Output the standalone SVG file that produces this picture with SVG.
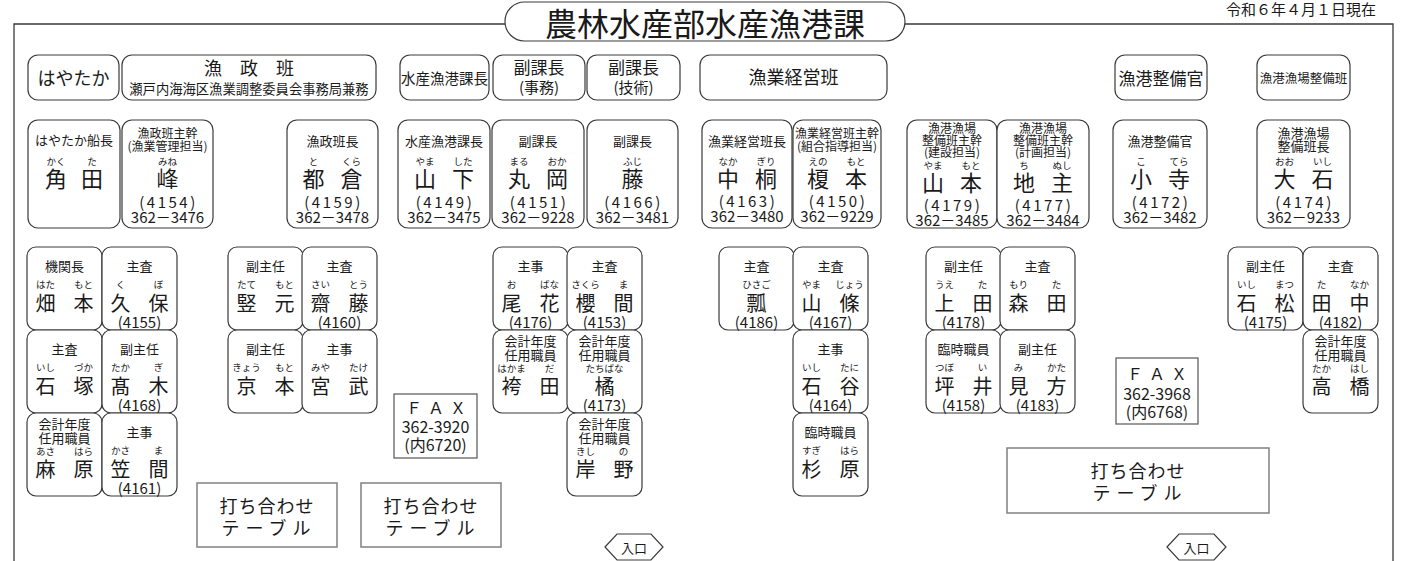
<svg xmlns="http://www.w3.org/2000/svg" width="1411" height="561" viewBox="0 0 1411 561">
<style>
text{font-family:"Noto Sans CJK JP","Noto Sans",sans-serif;fill:#1a1a1a;text-anchor:middle;dominant-baseline:central}
.b{fill:#fff;stroke:#3a3a3a;stroke-width:1.2}
.sq{fill:#fff;stroke:#808080;stroke-width:1.5}
.fx{fill:#fff;stroke:#555;stroke-width:1.2}
.fr{fill:none;stroke:#3a3a3a;stroke-width:1.3}
.t{font-size:13px}
.t2{font-size:12px}
.r{font-size:9.5px}
.n{font-size:22px}
.m{font-size:20px}
.e{font-size:15px;letter-spacing:2.5px}
.p{font-size:15px}
.q{font-size:15px}
.f{font-size:16px}
.tb{font-size:18px}
</style>
<defs>
<rect id="cell" class="b" x="0" y="0" width="75" height="83" rx="9"/>
</defs>
<g id="frame">
<path class="fr" d="M14,561 V24 H505 M905,24 H1393 V561"/>
</g>
<g id="title">
<rect class="b" x="505" y="2" width="400" height="39" rx="19.5"/>
<text x="705" y="22" style="font-size:32px">農林水産部水産漁港課</text>
</g>
<text id="date" x="1376" y="8" style="font-size:15px;text-anchor:end">令和６年４月１日現在</text>
<g id="connectors"></g>

<g id="h-hayataka"><rect class="b" x="28" y="55" width="91" height="45" rx="10"/><text x="73.5" y="77" style="font-size:18px">はやたか</text></g>
<g id="h-gyosei"><rect class="b" x="122" y="55" width="254" height="45" rx="10"/><text x="249" y="67" style="font-size:18px">漁　政　班</text><text x="249" y="88" style="font-size:13.3px">瀬戸内海海区漁業調整委員会事務局兼務</text></g>
<g id="h-kacho"><rect class="b" x="400" y="55" width="89" height="45" rx="10"/><text x="444.5" y="77" style="font-size:14.5px">水産漁港課長</text></g>
<g id="h-fuku1"><rect class="b" x="493" y="55" width="92" height="45" rx="10"/><text x="539" y="66" style="font-size:17px">副課長</text><text x="539" y="86" style="font-size:15px">(事務)</text></g>
<g id="h-fuku2"><rect class="b" x="587" y="55" width="93" height="45" rx="10"/><text x="633.5" y="66" style="font-size:17px">副課長</text><text x="633.5" y="86" style="font-size:15px">(技術)</text></g>
<g id="h-keiei"><rect class="b" x="700" y="55" width="187" height="45" rx="10"/><text x="793.5" y="76" style="font-size:18px">漁業経営班</text></g>
<g id="h-seibikan"><rect class="b" x="1115" y="55" width="92" height="45" rx="10"/><text x="1161" y="77" style="font-size:17px">漁港整備官</text></g>
<g id="h-seibihan"><rect class="b" x="1257" y="55" width="93" height="45" rx="10"/><text x="1303.5" y="77" style="font-size:12.5px">漁港漁場整備班</text></g>

<g id="kakuta" transform="translate(28,120)"><rect class="b" width="92" height="108" rx="10"/>
<text class="t" x="46" y="19">はやたか船長</text><text class="r" x="28" y="41">かく</text><text class="r" x="64" y="41">た</text>
<text class="n" x="28" y="57">角</text><text class="n" x="64" y="57">田</text></g>

<g id="mine" transform="translate(122,120)"><rect class="b" width="91" height="108" rx="10"/>
<text class="t2" x="45.5" y="12">漁政班主幹</text><text class="t2" x="45.5" y="25">(漁業管理担当)</text><text class="r" x="45.5" y="41">みね</text>
<text class="n" x="45.5" y="57">峰</text><text class="e" x="46.5" y="81">(4154)</text><text class="p" x="45.5" y="96">362－3476</text></g>

<g id="tokura" transform="translate(287,120)"><rect class="b" width="91" height="108" rx="10"/>
<text class="t" x="45.5" y="20">漁政班長</text><text class="r" x="26.5" y="41">と</text><text class="r" x="64.5" y="41">くら</text>
<text class="n" x="26.5" y="57">都</text><text class="n" x="64.5" y="57">倉</text><text class="e" x="46.5" y="81">(4159)</text><text class="p" x="45.5" y="96">362－3478</text></g>

<g id="yamashita" transform="translate(398,120)"><rect class="b" width="92" height="108" rx="10"/>
<text class="t" x="46" y="20">水産漁港課長</text><text class="r" x="27" y="41">やま</text><text class="r" x="65" y="41">した</text>
<text class="n" x="27" y="57">山</text><text class="n" x="65" y="57">下</text><text class="e" x="47" y="81">(4149)</text><text class="p" x="46" y="96">362－3475</text></g>

<g id="maruoka" transform="translate(492,120)"><rect class="b" width="92" height="108" rx="10"/>
<text class="t" x="46" y="20">副課長</text><text class="r" x="27" y="41">まる</text><text class="r" x="65" y="41">おか</text>
<text class="n" x="27" y="57">丸</text><text class="n" x="65" y="57">岡</text><text class="e" x="47" y="81">(4151)</text><text class="p" x="46" y="96">362－9228</text></g>

<g id="fuji" transform="translate(587,120)"><rect class="b" width="91" height="108" rx="10"/>
<text class="t" x="45.5" y="20">副課長</text><text class="r" x="45.5" y="41">ふじ</text>
<text class="n" x="45.5" y="57">藤</text><text class="e" x="46.5" y="81">(4166)</text><text class="p" x="45.5" y="96">362－3481</text></g>

<g id="nakagiri" transform="translate(702,120)"><rect class="b" width="90" height="108" rx="10"/>
<text class="t" x="45" y="20">漁業経営班長</text><text class="r" x="26" y="41">なか</text><text class="r" x="64" y="41">ぎり</text>
<text class="n" x="26" y="57">中</text><text class="n" x="64" y="57">桐</text><text class="e" x="46" y="80">(4163)</text><text class="p" x="45" y="95">362－3480</text></g>

<g id="enomoto" transform="translate(793,120)"><rect class="b" width="88" height="108" rx="10"/>
<text class="t2" x="44" y="12">漁業経営班主幹</text><text class="t2" x="44" y="25">(組合指導担当)</text><text class="r" x="25" y="41">えの</text><text class="r" x="63" y="41">もと</text>
<text class="n" x="25" y="57">榎</text><text class="n" x="63" y="57">本</text><text class="e" x="45" y="80">(4150)</text><text class="p" x="44" y="95">362－9229</text></g>

<g id="yamamoto" transform="translate(907,120)"><rect class="b" width="90" height="108" rx="10"/>
<text class="t2" x="45" y="7">漁港漁場</text><text class="t2" x="45" y="19">整備班主幹</text><text class="t2" x="45" y="31">(建設担当)</text>
<text class="r" x="26" y="45">やま</text><text class="r" x="64" y="45">もと</text>
<text class="n" x="26" y="61">山</text><text class="n" x="64" y="61">本</text><text class="e" x="46" y="84">(4179)</text><text class="p" x="45" y="99">362－3485</text></g>

<g id="jinushi" transform="translate(997,120)"><rect class="b" width="92" height="108" rx="10"/>
<text class="t2" x="46" y="7">漁港漁場</text><text class="t2" x="46" y="19">整備班主幹</text><text class="t2" x="46" y="31">(計画担当)</text>
<text class="r" x="27" y="45">ち</text><text class="r" x="65" y="45">ぬし</text>
<text class="n" x="27" y="61">地</text><text class="n" x="65" y="61">主</text><text class="e" x="47" y="84">(4177)</text><text class="p" x="46" y="99">362－3484</text></g>

<g id="kotera" transform="translate(1113,120)"><rect class="b" width="94" height="108" rx="10"/>
<text class="t" x="47" y="20">漁港整備官</text><text class="r" x="28" y="41">こ</text><text class="r" x="66" y="41">てら</text>
<text class="n" x="28" y="57">小</text><text class="n" x="66" y="57">寺</text><text class="e" x="48" y="81">(4172)</text><text class="p" x="47" y="96">362－3482</text></g>

<g id="oishi" transform="translate(1257,120)"><rect class="b" width="93" height="108" rx="10"/>
<text class="t" x="46.5" y="12">漁港漁場</text><text class="t" x="46.5" y="25">整備班長</text><text class="r" x="27.5" y="41">おお</text><text class="r" x="65.5" y="41">いし</text>
<text class="n" x="27.5" y="57">大</text><text class="n" x="65.5" y="57">石</text><text class="e" x="47.5" y="81">(4174)</text><text class="p" x="46.5" y="96">362－9233</text></g>

<g id="hatamoto" transform="translate(27,247)"><use href="#cell"/><text class="t" x="37.5" y="18">機関長</text><text class="r" x="18.5" y="37">はた</text><text class="r" x="56.5" y="37">もと</text><text class="m" x="18.5" y="55">畑</text><text class="m" x="56.5" y="55">本</text></g>
<g id="kubo" transform="translate(102,247)"><use href="#cell"/><text class="t" x="37.5" y="18">主査</text><text class="r" x="18.5" y="37">く</text><text class="r" x="56.5" y="37">ぼ</text><text class="m" x="18.5" y="55">久</text><text class="m" x="56.5" y="55">保</text><text class="q" x="37.5" y="74">(4155)</text></g>
<g id="ishizuka" transform="translate(27,330)"><use href="#cell"/><text class="t" x="37.5" y="18">主査</text><text class="r" x="18.5" y="37">いし</text><text class="r" x="56.5" y="37">づか</text><text class="m" x="18.5" y="55">石</text><text class="m" x="56.5" y="55">塚</text></g>
<g id="takagi" transform="translate(102,330)"><use href="#cell"/><text class="t" x="37.5" y="18">副主任</text><text class="r" x="18.5" y="37">たか</text><text class="r" x="56.5" y="37">ぎ</text><text class="m" x="18.5" y="55">髙</text><text class="m" x="56.5" y="55">木</text><text class="q" x="37.5" y="74">(4168)</text></g>
<g id="asahara" transform="translate(27,413)"><use href="#cell"/><text class="t" x="37.5" y="10">会計年度</text><text class="t" x="37.5" y="24">任用職員</text><text class="r" x="18.5" y="38">あさ</text><text class="r" x="56.5" y="38">はら</text><text class="m" x="18.5" y="55">麻</text><text class="m" x="56.5" y="55">原</text></g>
<g id="kasama" transform="translate(102,413)"><use href="#cell"/><text class="t" x="37.5" y="18">主事</text><text class="r" x="18.5" y="37">かさ</text><text class="r" x="56.5" y="37">ま</text><text class="m" x="18.5" y="55">笠</text><text class="m" x="56.5" y="55">間</text><text class="q" x="37.5" y="74">(4161)</text></g>

<g id="tatemoto" transform="translate(228,247)"><use href="#cell"/><text class="t" x="37.5" y="18">副主任</text><text class="r" x="18.5" y="37">たて</text><text class="r" x="56.5" y="37">もと</text><text class="m" x="18.5" y="55">竪</text><text class="m" x="56.5" y="55">元</text></g>
<g id="saito" transform="translate(302,247)"><use href="#cell"/><text class="t" x="37.5" y="18">主査</text><text class="r" x="18.5" y="37">さい</text><text class="r" x="56.5" y="37">とう</text><text class="m" x="18.5" y="55">齋</text><text class="m" x="56.5" y="55">藤</text><text class="q" x="37.5" y="74">(4160)</text></g>
<g id="kyomoto" transform="translate(228,330)"><use href="#cell"/><text class="t" x="37.5" y="18">副主任</text><text class="r" x="18.5" y="37">きょう</text><text class="r" x="56.5" y="37">もと</text><text class="m" x="18.5" y="55">京</text><text class="m" x="56.5" y="55">本</text></g>
<g id="miyatake" transform="translate(302,330)"><use href="#cell"/><text class="t" x="37.5" y="18">主事</text><text class="r" x="18.5" y="37">みや</text><text class="r" x="56.5" y="37">たけ</text><text class="m" x="18.5" y="55">宮</text><text class="m" x="56.5" y="55">武</text></g>

<g id="obana" transform="translate(493,247)"><use href="#cell"/><text class="t" x="37.5" y="18">主事</text><text class="r" x="18.5" y="37">お</text><text class="r" x="56.5" y="37">ばな</text><text class="m" x="18.5" y="55">尾</text><text class="m" x="56.5" y="55">花</text><text class="q" x="37.5" y="74">(4176)</text></g>
<g id="sakurama" transform="translate(567,247)"><use href="#cell"/><text class="t" x="37.5" y="18">主査</text><text class="r" x="18.5" y="37">さくら</text><text class="r" x="56.5" y="37">ま</text><text class="m" x="18.5" y="55">櫻</text><text class="m" x="56.5" y="55">間</text><text class="q" x="37.5" y="74">(4153)</text></g>
<g id="hakamada" transform="translate(493,330)"><use href="#cell"/><text class="t" x="37.5" y="10">会計年度</text><text class="t" x="37.5" y="24">任用職員</text><text class="r" x="18.5" y="38">はかま</text><text class="r" x="56.5" y="38">だ</text><text class="m" x="18.5" y="55">袴</text><text class="m" x="56.5" y="55">田</text></g>
<g id="tachibana" transform="translate(567,330)"><use href="#cell"/><text class="t" x="37.5" y="10">会計年度</text><text class="t" x="37.5" y="24">任用職員</text><text class="r" x="37.5" y="38">たちばな</text><text class="m" x="37.5" y="55">橘</text><text class="q" x="37.5" y="74">(4173)</text></g>
<g id="kishino" transform="translate(567,413)"><use href="#cell"/><text class="t" x="37.5" y="10">会計年度</text><text class="t" x="37.5" y="24">任用職員</text><text class="r" x="18.5" y="38">きし</text><text class="r" x="56.5" y="38">の</text><text class="m" x="18.5" y="55">岸</text><text class="m" x="56.5" y="55">野</text></g>

<g id="hisago" transform="translate(719,247)"><use href="#cell"/><text class="t" x="37.5" y="18">主査</text><text class="r" x="37.5" y="37">ひさご</text><text class="m" x="37.5" y="55">瓢</text><text class="q" x="37.5" y="74">(4186)</text></g>
<g id="sanjo" transform="translate(793,247)"><use href="#cell"/><text class="t" x="37.5" y="18">主査</text><text class="r" x="18.5" y="37">やま</text><text class="r" x="56.5" y="37">じょう</text><text class="m" x="18.5" y="55">山</text><text class="m" x="56.5" y="55">條</text><text class="q" x="37.5" y="74">(4167)</text></g>
<g id="ishitani" transform="translate(793,330)"><use href="#cell"/><text class="t" x="37.5" y="18">主事</text><text class="r" x="18.5" y="37">いし</text><text class="r" x="56.5" y="37">たに</text><text class="m" x="18.5" y="55">石</text><text class="m" x="56.5" y="55">谷</text><text class="q" x="37.5" y="74">(4164)</text></g>
<g id="sugihara" transform="translate(793,413)"><use href="#cell"/><text class="t" x="37.5" y="18">臨時職員</text><text class="r" x="18.5" y="37">すぎ</text><text class="r" x="56.5" y="37">はら</text><text class="m" x="18.5" y="55">杉</text><text class="m" x="56.5" y="55">原</text></g>

<g id="ueta" transform="translate(926,247)"><use href="#cell"/><text class="t" x="37.5" y="18">副主任</text><text class="r" x="18.5" y="37">うえ</text><text class="r" x="56.5" y="37">た</text><text class="m" x="18.5" y="55">上</text><text class="m" x="56.5" y="55">田</text><text class="q" x="37.5" y="74">(4178)</text></g>
<g id="morita" transform="translate(1000,247)"><use href="#cell"/><text class="t" x="37.5" y="18">主査</text><text class="r" x="18.5" y="37">もり</text><text class="r" x="56.5" y="37">た</text><text class="m" x="18.5" y="55">森</text><text class="m" x="56.5" y="55">田</text></g>
<g id="tsuboi" transform="translate(926,330)"><use href="#cell"/><text class="t" x="37.5" y="18">臨時職員</text><text class="r" x="18.5" y="37">つぼ</text><text class="r" x="56.5" y="37">い</text><text class="m" x="18.5" y="55">坪</text><text class="m" x="56.5" y="55">井</text><text class="q" x="37.5" y="74">(4158)</text></g>
<g id="mikata" transform="translate(1000,330)"><use href="#cell"/><text class="t" x="37.5" y="18">副主任</text><text class="r" x="18.5" y="37">み</text><text class="r" x="56.5" y="37">かた</text><text class="m" x="18.5" y="55">見</text><text class="m" x="56.5" y="55">方</text><text class="q" x="37.5" y="74">(4183)</text></g>

<g id="ishimatsu" transform="translate(1228,247)"><use href="#cell"/><text class="t" x="37.5" y="18">副主任</text><text class="r" x="18.5" y="37">いし</text><text class="r" x="56.5" y="37">まつ</text><text class="m" x="18.5" y="55">石</text><text class="m" x="56.5" y="55">松</text><text class="q" x="37.5" y="74">(4175)</text></g>
<g id="tanaka" transform="translate(1303,247)"><use href="#cell"/><text class="t" x="37.5" y="18">主査</text><text class="r" x="18.5" y="37">た</text><text class="r" x="56.5" y="37">なか</text><text class="m" x="18.5" y="55">田</text><text class="m" x="56.5" y="55">中</text><text class="q" x="37.5" y="74">(4182)</text></g>
<g id="takahashi" transform="translate(1303,330)"><use href="#cell"/><text class="t" x="37.5" y="10">会計年度</text><text class="t" x="37.5" y="24">任用職員</text><text class="r" x="18.5" y="38">たか</text><text class="r" x="56.5" y="38">はし</text><text class="m" x="18.5" y="55">高</text><text class="m" x="56.5" y="55">橋</text></g>

<g id="fax1"><rect class="fx" x="394" y="394" width="83" height="64"/><text class="f" x="439" y="407" style="letter-spacing:6px">ＦＡＸ</text><text class="f" x="435.5" y="426">362-3920</text><text class="f" x="435.5" y="444">(内6720)</text></g>
<g id="fax2"><rect class="fx" x="1116" y="358" width="82" height="66"/><text class="f" x="1160" y="373" style="letter-spacing:6px">ＦＡＸ</text><text class="f" x="1157" y="393">362-3968</text><text class="f" x="1157" y="411">(内6768)</text></g>

<g id="table1"><rect class="sq" x="197" y="483" width="140" height="64"/><text class="tb" x="267" y="505" style="letter-spacing:1px">打ち合わせ</text><text class="tb" x="269" y="527" style="letter-spacing:6px">テーブル</text></g>
<g id="table2"><rect class="sq" x="361" y="483" width="140" height="64"/><text class="tb" x="431" y="505" style="letter-spacing:1px">打ち合わせ</text><text class="tb" x="433" y="527" style="letter-spacing:6px">テーブル</text></g>
<g id="table3"><rect class="sq" x="1007" y="448" width="262" height="65"/><text class="tb" x="1138" y="470" style="letter-spacing:1px">打ち合わせ</text><text class="tb" x="1140" y="492" style="letter-spacing:6px">テーブル</text></g>

<g id="entrance1"><polygon class="b" points="605,547 617,534 651,534 663,547 651,560 617,560"/><text x="634" y="547" style="font-size:13px">入口</text></g>
<g id="entrance2"><polygon class="b" points="1167,547 1179,534 1214,534 1226,547 1214,560 1179,560"/><text x="1196.5" y="547" style="font-size:13px">入口</text></g>
</svg>
